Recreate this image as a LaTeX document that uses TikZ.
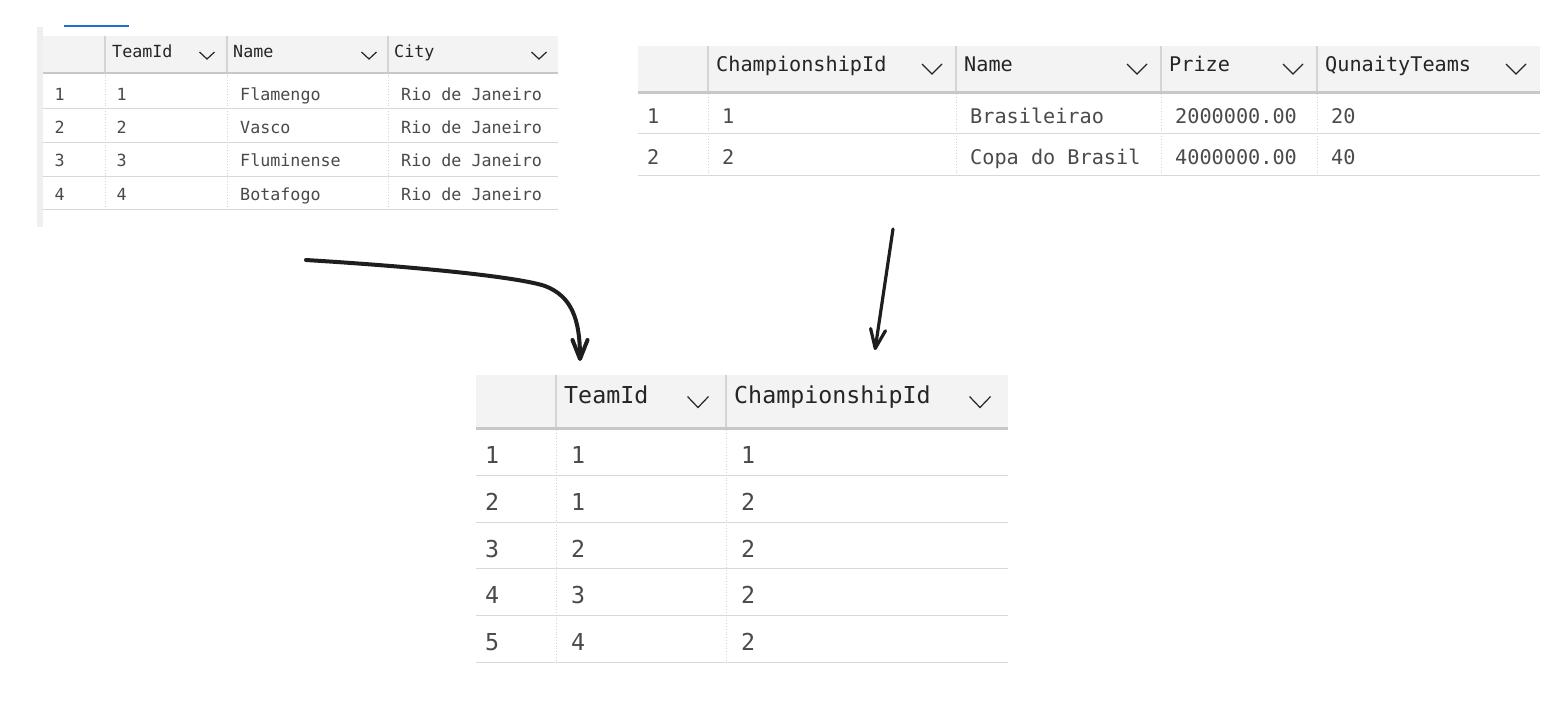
\documentclass[tikz,border=0pt]{standalone}
\usepackage{fontspec}
\setmonofont{DejaVu Sans Mono}
\usetikzlibrary{arrows.meta}
\definecolor{hdrbg}{HTML}{F3F3F3}
\definecolor{thickc}{HTML}{C8C8C8}
\definecolor{rowc}{HTML}{D8D8D8}
\definecolor{sepc}{HTML}{D4D4D4}
\definecolor{bodytxt}{HTML}{4A4A4A}
\definecolor{hdrtxt}{HTML}{252525}
\definecolor{arrowc}{HTML}{1E1E1E}
\definecolor{bluec}{HTML}{1F6FD1}
\definecolor{sidec}{HTML}{EFEFEF}
\newcommand\mychev[4]{\draw[chevline] (#1-#3/2,#2-#4/2) -- (#1,#2+#4/2) -- (#1+#3/2,#2-#4/2);}
\begin{document}
\begin{tikzpicture}[x=1pt,y=-1pt,
  txt/.style={anchor=base west, inner sep=0pt, text=bodytxt},
  hdr/.style={anchor=base west, inner sep=0pt, text=hdrtxt},
  fA/.style={font=\ttfamily\fontsize{16.7}{18}\selectfont},
  fB/.style={font=\ttfamily\fontsize{20.2}{22}\selectfont},
  fC/.style={font=\ttfamily\fontsize{23.3}{26}\selectfont},
  thickline/.style={draw=thickc, line width=2.6pt},
  rowline/.style={draw=rowc, line width=1pt},
  hsep/.style={draw=sepc, line width=1.2pt},
  bsep/.style={draw=sepc, line width=0.8pt, dotted},
  chevline/.style={draw=hdrtxt, line width=1.2pt, line join=miter},
  arr/.style={draw=arrowc, line width=3.2pt, line cap=round, line join=round,
    -{Straight Barb[length=19pt,width=15pt,line cap=round,line join=round]}}
]
\useasboundingbox[fill=white] (0,0) rectangle (1568,724);

% ================= Table 1: Teams =================
\fill[sidec] (37,27) rectangle (43,227);
\draw[bluec, line width=2pt] (64,26) -- (129,26);
\fill[hdrbg] (43,36) rectangle (558,72);
\draw[thickline] (43,73) -- (558,73);
\foreach \x in {105,227,388} {\draw[hsep] (\x,36) -- (\x,72); \draw[bsep] (\x,74.5) -- (\x,209);}
\foreach \y in {108,142,176,209} {\draw[rowline] (43,\y) -- (558,\y);}
\node[hdr,fA] (t1hA) at (112,57) {TeamId};
\node[hdr,fA] (t1hB) at (233,57) {Name};
\node[hdr,fA] (t1hC) at (394,57) {City};
\mychev{207}{55.5}{15}{7}
\mychev{369}{55.5}{15}{7}
\mychev{539}{55.5}{15}{7}
\foreach \i/\yy/\nm in {1/100/Flamengo,2/133.3/Vasco,3/166.8/Fluminense,4/200.3/Botafogo} {
  \node[txt,fA] (t1r\i n) at (54.5,\yy) {\i};
  \node[txt,fA] (t1r\i a) at (116.5,\yy) {\i};
  \node[txt,fA] (t1r\i b) at (240,\yy) {\nm};
  \node[txt,fA] (t1r\i c) at (401,\yy) {Rio de Janeiro};
}

% ================= Table 2: Championships =================
\fill[hdrbg] (638,46) rectangle (1540,91);
\draw[thickline] (638,92.3) -- (1540,92.3);
\foreach \x in {708,956,1161,1317} {\draw[hsep] (\x,46) -- (\x,91); \draw[bsep] (\x,94) -- (\x,175);}
\foreach \y in {133,175} {\draw[rowline] (638,\y) -- (1540,\y);}
\node[hdr,fB] (t2hA) at (716,71.5) {ChampionshipId};
\node[hdr,fB] (t2hB) at (964,71.5) {Name};
\node[hdr,fB] (t2hC) at (1169,71.5) {Prize};
\node[hdr,fB] (t2hD) at (1325,71.5) {QunaityTeams};
\mychev{932}{69}{20}{10}
\mychev{1137}{69}{20}{10}
\mychev{1293}{69}{20}{10}
\mychev{1516}{69}{20}{10}
\foreach \i/\yy/\nm/\pr/\qt in {1/123.5/Brasileirao/2000000.00/20,2/164/Copa do Brasil/4000000.00/40} {
  \node[txt,fB] (t2r\i n) at (647,\yy) {\i};
  \node[txt,fB] (t2r\i a) at (722,\yy) {\i};
  \node[txt,fB] (t2r\i b) at (970,\yy) {\nm};
  \node[txt,fB] (t2r\i c) at (1175,\yy) {\pr};
  \node[txt,fB] (t2r\i d) at (1331,\yy) {\qt};
}

% ================= Table 3: TeamChampionship =================
\fill[hdrbg] (476,375) rectangle (1008,427);
\draw[thickline] (476,428.3) -- (1008,428.3);
\foreach \x in {556,726} {\draw[hsep] (\x,375) -- (\x,427); \draw[bsep] (\x,430) -- (\x,662);}
\foreach \y in {475,522,568,615,662} {\draw[rowline] (476,\y) -- (1008,\y);}
\node[hdr,fC] (t3hA) at (564,403) {TeamId};
\node[hdr,fC] (t3hB) at (734,403) {ChampionshipId};
\mychev{698}{402}{21}{11}
\mychev{980}{402}{21}{11}
\foreach \i/\yy/\ta/\ca in {1/463.5/1/1,2/510/1/2,3/557/2/2,4/603.5/3/2,5/650/4/2} {
  \node[txt,fC] (t3r\i n) at (485,\yy) {\i};
  \node[txt,fC] (t3r\i a) at (571,\yy) {\ta};
  \node[txt,fC] (t3r\i b) at (741,\yy) {\ca};
}

% ================= Arrows =================
\coordinate (a1s) at (306,260);
\coordinate (a1m) at (545,286);
\coordinate (a1e) at (580,361);
\coordinate (a2s) at (893,229);
\coordinate (a2e) at (875,350);
\draw[arr, line width=4pt] (a1s) .. controls (420,267) and (518,277) .. (a1m) .. controls (571,296) and (580,318) .. (a1e);
\draw[arr] (a2s) -- (a2e);
\end{tikzpicture}
\end{document}
